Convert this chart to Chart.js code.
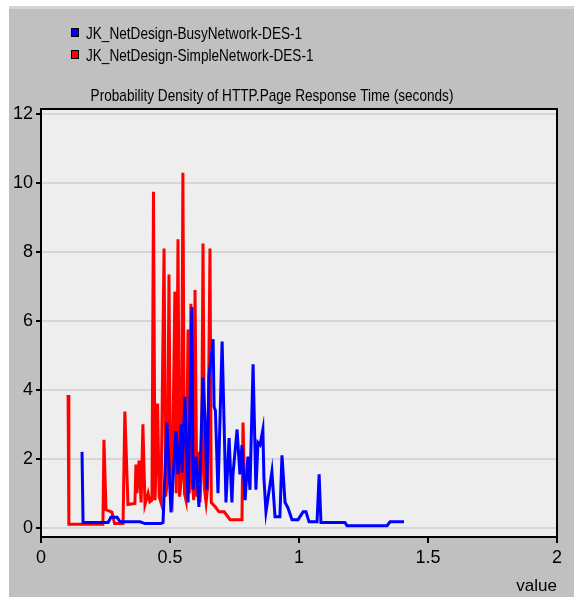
<!DOCTYPE html>
<html>
<head>
<meta charset="utf-8">
<script src="https://cdn.jsdelivr.net/npm/chart.js@4.4.0/dist/chart.umd.min.js"></script>
<style>
  body { margin: 0; background: #fff; }
  #wrap { width: 574px; height: 597px; }
</style>
</head>
<body>
<div id="wrap"><canvas id="density"></canvas></div>
<script>
// series names (legend order)
const seriesNames = ['JK_NetDesign-BusyNetwork-DES-1', 'JK_NetDesign-SimpleNetwork-DES-1'];
const chartTitle = 'Probability Density of HTTP.Page Response Time (seconds)';
const xTitle = 'value';

// busy network (blue)
const busyX = [0.159, 0.163, 0.26, 0.271, 0.295, 0.306, 0.384, 0.403, 0.465, 0.473, 0.488, 0.504, 0.523, 0.531, 0.543, 0.547, 0.558, 0.57, 0.585, 0.589, 0.601, 0.612, 0.628, 0.636, 0.643, 0.651, 0.667, 0.671, 0.676, 0.686, 0.702, 0.717, 0.729, 0.74, 0.744, 0.76, 0.771, 0.779, 0.791, 0.802, 0.81, 0.822, 0.833, 0.841, 0.849, 0.86, 0.864, 0.872, 0.895, 0.907, 0.926, 0.934, 0.946, 0.957, 0.973, 0.996, 1.016, 1.027, 1.039, 1.07, 1.078, 1.085, 1.178, 1.186, 1.341, 1.353, 1.407];
const busyY = [2.2, 0.15, 0.15, 0.3, 0.3, 0.17, 0.17, 0.12, 0.12, 0.15, 3.05, 0.44, 2.8, 1.55, 3.0, 1.6, 3.8, 0.73, 6.4, 1.1, 2.06, 0.6, 4.36, 3.1, 1.1, 4.4, 5.47, 3.5, 3.4, 1.0, 5.4, 0.73, 2.6, 0.73, 1.55, 2.85, 1.55, 2.4, 0.8, 2.06, 1.1, 4.74, 1.1, 2.47, 2.4, 2.85, 1.45, 0.46, 1.63, 0.32, 0.32, 2.1, 0.73, 0.58, 0.23, 0.23, 0.46, 0.46, 0.17, 0.17, 1.55, 0.15, 0.15, 0.06, 0.06, 0.17, 0.17];

// simple network (red)
const simpleX = [0.105, 0.108, 0.24, 0.244, 0.252, 0.275, 0.285, 0.318, 0.325, 0.337, 0.364, 0.368, 0.372, 0.38, 0.388, 0.395, 0.403, 0.415, 0.422, 0.43, 0.436, 0.442, 0.452, 0.458, 0.465, 0.477, 0.483, 0.49, 0.496, 0.502, 0.508, 0.519, 0.524, 0.531, 0.537, 0.544, 0.55, 0.556, 0.562, 0.57, 0.575, 0.581, 0.587, 0.592, 0.597, 0.604, 0.61, 0.616, 0.622, 0.628, 0.634, 0.64, 0.646, 0.655, 0.66, 0.676, 0.69, 0.71, 0.733, 0.779, 0.783, 0.79];
const simpleY = [3.85, 0.1, 0.1, 2.55, 0.52, 0.45, 0.12, 0.12, 3.37, 0.67, 0.7, 1.83, 1.0, 1.95, 0.73, 3.0, 0.67, 1.0, 0.75, 0.8, 9.75, 0.8, 3.6, 0.9, 0.73, 8.1, 0.9, 1.33, 7.35, 1.0, 0.8, 6.85, 1.0, 8.37, 0.9, 1.4, 10.3, 1.0, 0.8, 5.75, 1.0, 6.5, 1.3, 0.8, 6.9, 0.9, 2.2, 0.73, 1.6, 8.25, 1.1, 0.73, 1.2, 8.1, 0.73, 0.6, 0.46, 0.46, 0.23, 0.23, 3.05, 0.9];

const yTicks = [0, 2, 4, 6, 8, 10, 12];
const xTicks = [0, 0.5, 1, 1.5, 2];

const FONT = "'Liberation Sans', Arial, sans-serif";
Chart.defaults.font.family = FONT;
Chart.defaults.color = '#000';

function zip(xs, ys) {
  return xs.map((x, i) => ({ x: x, y: ys[i] }));
}

// narrow text: draw squeezed horizontally
function narrowText(ctx, text, x, y, squeeze, align) {
  ctx.save();
  ctx.translate(x, y);
  ctx.scale(squeeze, 1);
  ctx.textAlign = align;
  ctx.fillText(text, 0, 0);
  ctx.restore();
}

// background, plot frame, legend and title
const framePlugin = {
  id: 'frame',
  beforeDraw(chart) {
    const ctx = chart.ctx, a = chart.chartArea;
    ctx.save();
    ctx.fillStyle = '#fff';
    ctx.fillRect(0, 0, chart.width, chart.height);
    ctx.fillStyle = '#d4d4d4';
    ctx.fillRect(9, 6, chart.width - 9, 3);
    ctx.fillStyle = '#c0c0c0';
    ctx.fillRect(9, 9, chart.width - 9, chart.height - 9);
    ctx.fillStyle = '#eeeeee';
    ctx.fillRect(a.left, a.top, a.right - a.left, a.bottom - a.top);
    ctx.restore();
  },
  afterDraw(chart) {
    const ctx = chart.ctx, a = chart.chartArea;
    ctx.save();
    ctx.strokeStyle = '#000';
    ctx.lineWidth = 2;
    ctx.strokeRect(a.left, a.top, a.right - a.left, a.bottom - a.top);

    ctx.font = '17px ' + FONT;
    ctx.textBaseline = 'middle';
    chart.data.datasets.forEach((ds, i) => {
      const y = 33 + i * 22;
      ctx.fillStyle = ds.borderColor;
      ctx.fillRect(71, y - 5, 8, 9);
      ctx.strokeStyle = '#000';
      ctx.lineWidth = 1;
      ctx.strokeRect(71.5, y - 4.5, 7, 8);
      ctx.fillStyle = '#000';
      narrowText(ctx, ds.label, 86, y + 1, 0.8, 'left');
    });
    narrowText(ctx, chartTitle, 272, 96, 0.8, 'center');
    ctx.restore();
  }
};

new Chart(document.getElementById('density'), {
  type: 'line',
  data: {
    datasets: [{
      label: seriesNames[0],
      data: zip(busyX, busyY),
      borderColor: '#0000ff',
      backgroundColor: '#0000ff',
      borderWidth: 3,
      pointRadius: 0,
      tension: 0
    }, {
      label: seriesNames[1],
      data: zip(simpleX, simpleY),
      borderColor: '#ff0000',
      backgroundColor: '#ff0000',
      borderWidth: 3,
      pointRadius: 0,
      tension: 0
    }]
  },
  options: {
    responsive: true,
    maintainAspectRatio: false,
    animation: false,
    layout: { padding: { left: 0, top: 109, right: 17, bottom: 0 } },
    plugins: {
      legend: { display: false },
      title: { display: false },
      tooltip: { enabled: false }
    },
    scales: {
      x: {
        type: 'linear',
        min: 0,
        max: 2,
        afterBuildTicks(scale) { scale.ticks = xTicks.map(v => ({ value: v })); },
        afterFit(scale) { scale.height = 60; },
        ticks: { font: { size: 18 }, padding: 4, maxRotation: 0, callback: v => String(v) },
        grid: { drawOnChartArea: false, tickColor: '#000', tickLength: 6, lineWidth: 2 },
        border: { color: '#000', width: 2 },
        title: { display: true, text: xTitle, align: 'end', font: { size: 17 }, padding: { top: 0, bottom: 0 } }
      },
      y: {
        type: 'linear',
        min: -0.27,
        max: 12.15,
        afterBuildTicks(scale) { scale.ticks = yTicks.map(v => ({ value: v })); },
        afterFit(scale) { scale.width = 41; },
        ticks: { font: { size: 18 }, padding: 3 },
        grid: { color: '#d6d6d6', lineWidth: 2, tickColor: '#000', tickLength: 5 },
        border: { color: '#000', width: 2 }
      }
    }
  },
  plugins: [framePlugin]
});
</script>
</body>
</html>
